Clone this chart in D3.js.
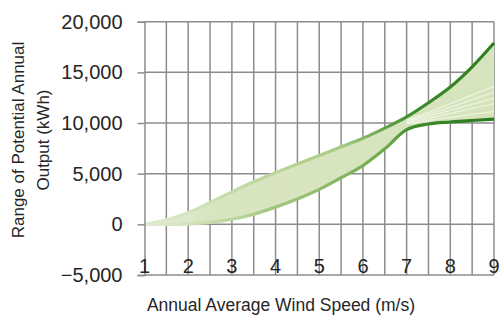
<!DOCTYPE html>
<html><head><meta charset="utf-8">
<script src="https://cdn.jsdelivr.net/npm/d3@7"></script>
<style>
html,body{margin:0;padding:0;background:#fff;}
svg{display:block;}
text{font-family:"Liberation Sans",Arial,sans-serif;fill:#262626;}
</style></head>
<body>
<svg id="c" width="502" height="320"></svg>
<script>
// wind speeds (m/s) at half-step resolution
const speeds = [1,1.5,2,2.5,3,3.5,4,4.5,5,5.5,6,6.5,7,7.5,8,8.5,9];
// upper bound of potential annual output (kWh)
const upper = [0,450,1150,2150,3200,4200,5100,5950,6800,7650,8500,9500,10600,12000,13550,15550,17900];
// lower bound of potential annual output (kWh)
const lower = [0,0,50,200,500,1000,1700,2500,3450,4600,5800,7450,9350,9900,10100,10250,10380];
// intermediate outputs above 7 m/s
const fanSpeeds = [7,7.5,8,8.5,9];
const fan1 = [9900,10250,10550,10850,11150];
const fan2 = [10000,10450,10950,11450,11900];
const fan3 = [10100,10650,11250,11850,12450];
const fan4 = [10200,10850,11550,12300,13050];
const fan5 = [10300,11050,11900,12750,13600];
const fans = [fan1,fan2,fan3,fan4,fan5];
const xTicks = [1,2,3,4,5,6,7,8,9];
const yTicks = [-5000,0,5000,10000,15000,20000];

const svg = d3.select("#c");
const x = d3.scaleLinear().domain([1,9]).range([144.5,494]);
const y = d3.scaleLinear().domain([-5000,20000]).range([275,21.7]);
const grid = "#8c8c8c";

// gradients
const defs = svg.append("defs");
function grad(id, stops){
  const g = defs.append("linearGradient").attr("id",id)
    .attr("gradientUnits","userSpaceOnUse")
    .attr("x1",x(1)).attr("x2",x(9)).attr("y1",0).attr("y2",0);
  stops.forEach(s=>g.append("stop").attr("offset",(x(s[0])-x(1))/(x(9)-x(1))).attr("stop-color",s[1]));
}
grad("gUp",[[1,"#e2ecd4"],[3,"#c4dba7"],[5.5,"#a9cc85"],[6.6,"#5f9f45"],[7.2,"#3b8a2b"],[9,"#2f7f20"]]);
grad("gLo",[[1,"#e2ecd4"],[2.5,"#c8dcaa"],[4,"#a3c67f"],[5.5,"#86b661"],[6.6,"#6aa84c"],[7.1,"#3f8c2d"],[9,"#2a7a1c"]]);
grad("gFill",[[1,"#e6eedb"],[2.5,"#d8e5c1"],[9,"#d6e4bc"]]);

// gridlines
const g = svg.append("g");
g.selectAll("line.h").data(yTicks).join("line")
  .attr("x1",x(1)).attr("x2",x(9)).attr("y1",d=>y(d)).attr("y2",d=>y(d))
  .attr("stroke",grid).attr("stroke-width",1.5);
g.selectAll("line.v").data(d3.range(1.5,9.01,0.5)).join("line")
  .attr("x1",d=>x(d)).attr("x2",d=>x(d)).attr("y1",y(20000)).attr("y2",y(-5000))
  .attr("stroke",grid).attr("stroke-width",1.5);

// band
const pts = speeds.map((s,i)=>({s,u:upper[i],l:lower[i]}));
const area = d3.area().x(d=>x(d.s)).y0(d=>y(d.l)).y1(d=>y(d.u)).curve(d3.curveMonotoneX);
svg.append("path").datum(pts).attr("d",area).attr("fill","url(#gFill)");

// fan lines
const fline = d3.line().x((d,i)=>x(fanSpeeds[i])).y(d=>y(d)).curve(d3.curveMonotoneX);
fans.forEach((f,k)=>{
  svg.append("path").datum(f).attr("d",fline).attr("fill","none")
    .attr("stroke","#f3f8ec").attr("stroke-width",1.3).attr("opacity",0.75);
});

// edges
const lineU = d3.line().x(d=>x(d.s)).y(d=>y(d.u)).curve(d3.curveMonotoneX);
const lineL = d3.line().x(d=>x(d.s)).y(d=>y(d.l)).curve(d3.curveMonotoneX);
svg.append("path").datum(pts).attr("d",lineL).attr("fill","none").attr("stroke","url(#gLo)").attr("stroke-width",3.2);
svg.append("path").datum(pts).attr("d",lineU).attr("fill","none").attr("stroke","url(#gUp)").attr("stroke-width",3.2);

// y axis
const ya = svg.append("g").attr("transform",`translate(${x(1)},0)`)
  .call(d3.axisLeft(y).tickValues(yTicks).tickSize(7).tickPadding(15).tickFormat(d3.format(",")));
ya.select(".domain").attr("stroke",grid).attr("stroke-width",1.5);
ya.selectAll(".tick line").attr("stroke",grid).attr("stroke-width",1.5);
ya.selectAll(".tick text").attr("font-size",20).attr("fill","#262626")
  .attr("font-family","'Liberation Sans',Arial,sans-serif");

// x labels
svg.append("g").selectAll("text").data(xTicks).join("text")
  .attr("x",d=>x(d)).attr("y",y(-5000)-2).attr("text-anchor","middle")
  .attr("font-size",20).text(d=>d);

// titles
svg.append("text").attr("x",281).attr("y",311).attr("text-anchor","middle")
  .attr("font-size",17.5).text("Annual Average Wind Speed (m/s)");
const yt = svg.append("text").attr("transform","translate(0,140) rotate(-90)")
  .attr("text-anchor","middle").attr("font-size",17);
yt.append("tspan").attr("x",0).attr("y",24).text("Range of Potential Annual");
yt.append("tspan").attr("x",0).attr("y",49).text("Output (kWh)");
</script>
</body></html>
